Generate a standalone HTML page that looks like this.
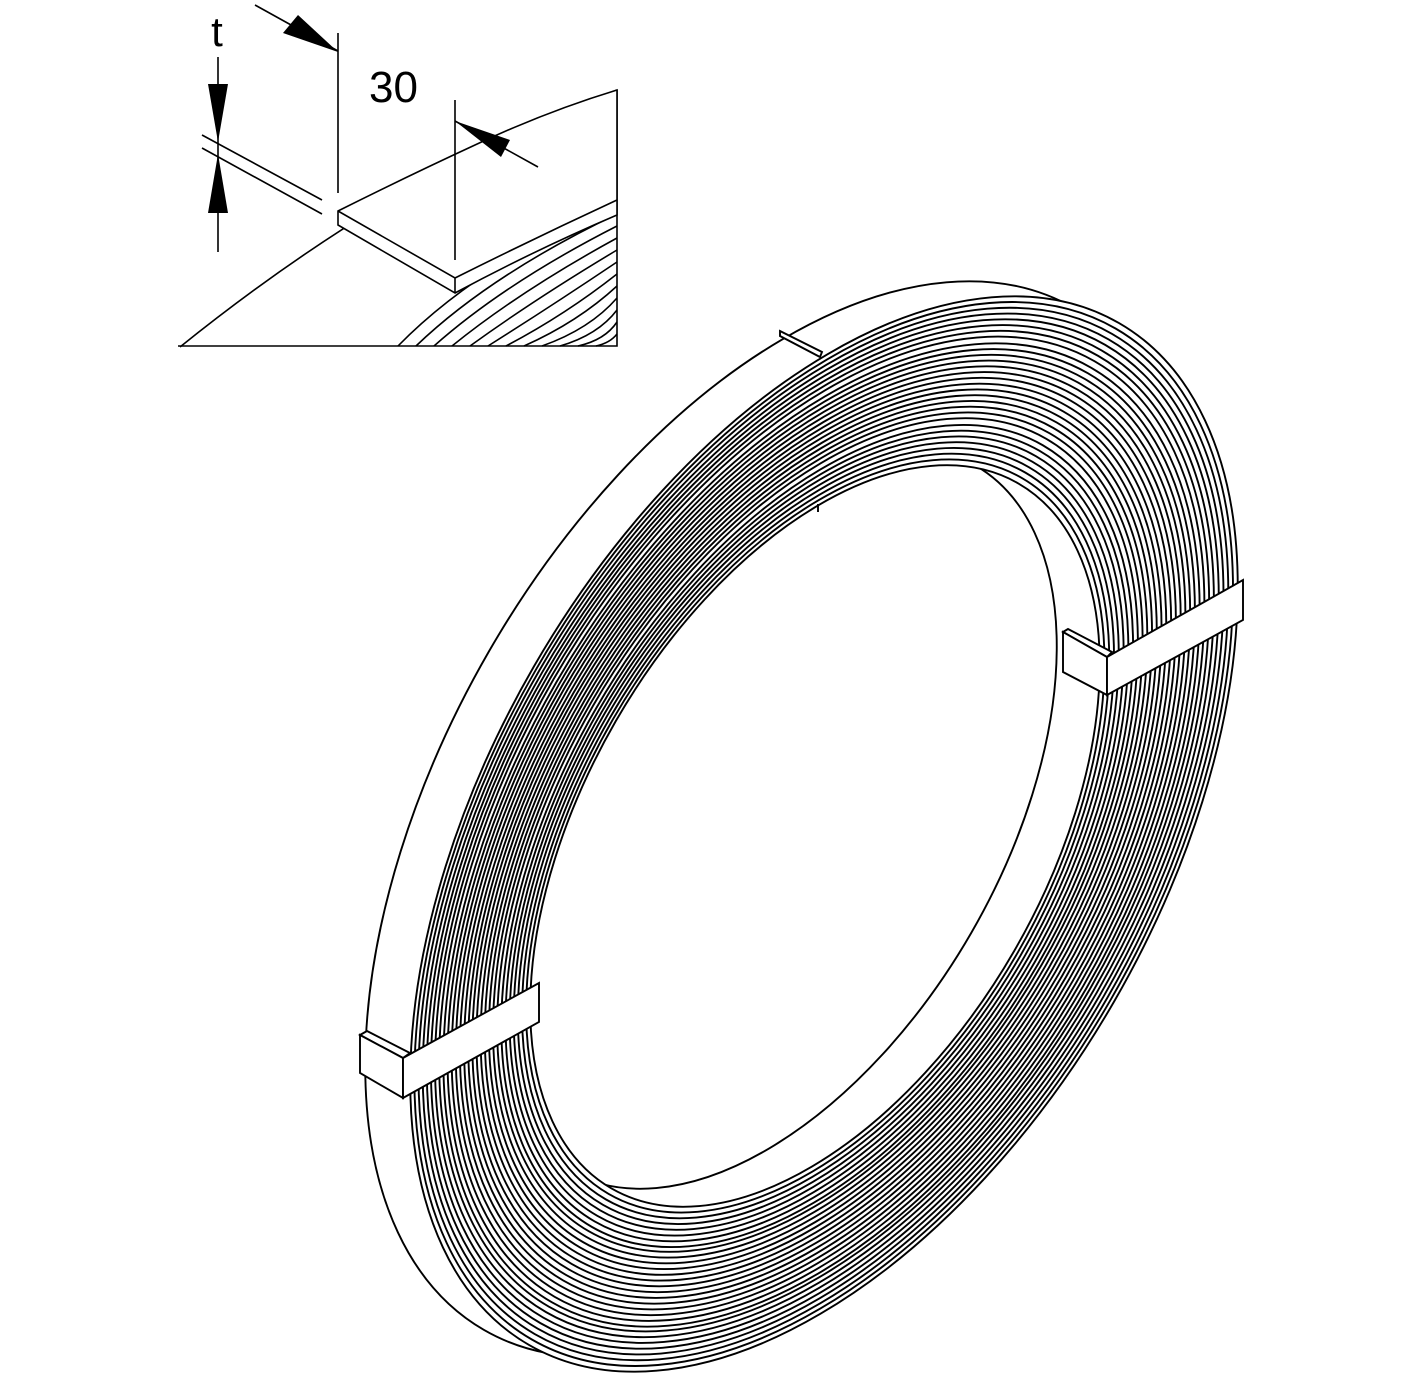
<!DOCTYPE html>
<html><head><meta charset="utf-8"><style>
html,body{margin:0;padding:0;background:#fff;width:1417px;height:1384px;overflow:hidden}
svg{display:block}
</style></head><body>
<svg width="1417" height="1384" viewBox="0 0 1417 1384" xmlns="http://www.w3.org/2000/svg" fill="none" stroke="#000" stroke-width="1.9">
<defs>
<clipPath id="hole"><ellipse cx="815" cy="836" rx="407" ry="230" transform="rotate(-60 815 836)"/></clipPath>
</defs>
<ellipse cx="779" cy="819" rx="590" ry="335" transform="rotate(-60 779 819)" fill="#fff"/>
<g fill="#fff">
<ellipse cx="824" cy="834" rx="590" ry="335" transform="rotate(-60 824 834)"/>
<ellipse cx="823.7" cy="834" rx="583.7" ry="331.4" transform="rotate(-60 823.7 834)"/>
<ellipse cx="823.4" cy="834" rx="577.4" ry="327.8" transform="rotate(-60 823.4 834)"/>
<ellipse cx="823.1" cy="834" rx="571.1" ry="324.1" transform="rotate(-60 823.1 834)"/>
<ellipse cx="822.8" cy="834" rx="564.8" ry="320.5" transform="rotate(-60 822.8 834)"/>
<ellipse cx="822.4" cy="834" rx="558.4" ry="316.9" transform="rotate(-60 822.4 834)"/>
<ellipse cx="822.1" cy="834" rx="552.1" ry="313.3" transform="rotate(-60 822.1 834)"/>
<ellipse cx="821.8" cy="834" rx="545.8" ry="309.7" transform="rotate(-60 821.8 834)"/>
<ellipse cx="821.5" cy="835" rx="539.5" ry="306" transform="rotate(-60 821.5 835)"/>
<ellipse cx="821.2" cy="835" rx="533.2" ry="302.4" transform="rotate(-60 821.2 835)"/>
<ellipse cx="820.9" cy="835" rx="526.9" ry="298.8" transform="rotate(-60 820.9 835)"/>
<ellipse cx="820.6" cy="835" rx="520.6" ry="295.2" transform="rotate(-60 820.6 835)"/>
<ellipse cx="820.3" cy="835" rx="514.3" ry="291.6" transform="rotate(-60 820.3 835)"/>
<ellipse cx="820" cy="835" rx="508" ry="287.9" transform="rotate(-60 820 835)"/>
<ellipse cx="819.7" cy="835" rx="501.7" ry="284.3" transform="rotate(-60 819.7 835)"/>
<ellipse cx="819.3" cy="835" rx="495.3" ry="280.7" transform="rotate(-60 819.3 835)"/>
<ellipse cx="819" cy="835" rx="489" ry="277.1" transform="rotate(-60 819 835)"/>
<ellipse cx="818.7" cy="835" rx="482.7" ry="273.4" transform="rotate(-60 818.7 835)"/>
<ellipse cx="818.4" cy="835" rx="476.4" ry="269.8" transform="rotate(-60 818.4 835)"/>
<ellipse cx="818.1" cy="835" rx="470.1" ry="266.2" transform="rotate(-60 818.1 835)"/>
<ellipse cx="817.8" cy="835" rx="463.8" ry="262.6" transform="rotate(-60 817.8 835)"/>
<ellipse cx="817.5" cy="835" rx="457.5" ry="259" transform="rotate(-60 817.5 835)"/>
<ellipse cx="817.2" cy="836" rx="451.2" ry="255.3" transform="rotate(-60 817.2 836)"/>
<ellipse cx="816.9" cy="836" rx="444.9" ry="251.7" transform="rotate(-60 816.9 836)"/>
<ellipse cx="816.6" cy="836" rx="438.6" ry="248.1" transform="rotate(-60 816.6 836)"/>
<ellipse cx="816.2" cy="836" rx="432.2" ry="244.5" transform="rotate(-60 816.2 836)"/>
<ellipse cx="815.9" cy="836" rx="425.9" ry="240.9" transform="rotate(-60 815.9 836)"/>
<ellipse cx="815.6" cy="836" rx="419.6" ry="237.2" transform="rotate(-60 815.6 836)"/>
<ellipse cx="815.3" cy="836" rx="413.3" ry="233.6" transform="rotate(-60 815.3 836)"/>
<ellipse cx="815" cy="836" rx="407" ry="230" transform="rotate(-60 815 836)"/>
</g>
<g clip-path="url(#hole)">
<ellipse cx="772" cy="818" rx="407" ry="230" transform="rotate(-60 772 818)"/>
</g>
<polygon points="780,331 822,352 820,357 780,336" fill="#fff"/>
<path d="M818,504 L818,512"/>
<g fill="#fff">
<polygon points="360,1035 367,1031 410,1053 403,1058"/>
<polygon points="360,1035 403,1058 403,1098 360,1073"/>
<polygon points="403,1058 539,983 539,1022 403,1098"/>
</g>
<g fill="#fff">
<polygon points="1063,632 1068,629 1112,652 1107,657"/>
<polygon points="1063,632 1107,657 1107,695 1063,672"/>
<polygon points="1107,657 1243,580 1243,620 1107,695"/>
</g>

<g stroke-width="1.6">
<path d="M178,346 L617,346 L617,90"/>
<path d="M180,347 Q400,170 617,90"/>
<path d="M398,346 Q475,267 617,202"/>
<path d="M416,346 Q490,275 617,214"/>
<path d="M434,346 Q505,283 617,226"/>
<path d="M452,346 Q520,291 617,238"/>
<path d="M470,346 Q535,299 617,250"/>
<path d="M488,346 Q550,307 617,262"/>
<path d="M506,346 Q565,315 617,274"/>
<path d="M524,346 Q578,322 617,286"/>
<path d="M542,346 Q590,329 617,298"/>
<path d="M560,346 Q598,335 617,310"/>
<path d="M578,346 Q605,340 617,322"/>
<path d="M596,346 Q610,343 617,334"/>
<path fill="#fff" d="M338,211 Q410,175 475,145 Q545,112 617,90 L617,215 Q535,250 455,293 L338,225 Z"/>
<path d="M338,211 L455,278 Q535,238 617,200 M455,278 L455,293"/>
<path d="M202,135 L322,200 M202,148 L322,214"/>
<path d="M218,57 L218,252"/>
<path d="M338,33 L338,193 M455,100 L455,260"/>
<path d="M255,5 L338,51 M455,121 L538,167"/>
</g>
<polygon points="208,84 228,84 218,142" fill="#000" stroke="none"/>
<polygon points="208,213 228,213 218,154" fill="#000" stroke="none"/>
<text x="217" y="46" font-family="Liberation Sans, sans-serif" font-size="42" fill="#000" stroke="none" text-anchor="middle">t</text>
<polygon points="283,33 298,15 338,52" fill="#000" stroke="none"/>
<polygon points="455,121 501,157 510,140" fill="#000" stroke="none"/>
<text x="369" y="102" font-family="Liberation Sans, sans-serif" font-size="44" fill="#000" stroke="none">30</text>
</svg>
</body></html>
